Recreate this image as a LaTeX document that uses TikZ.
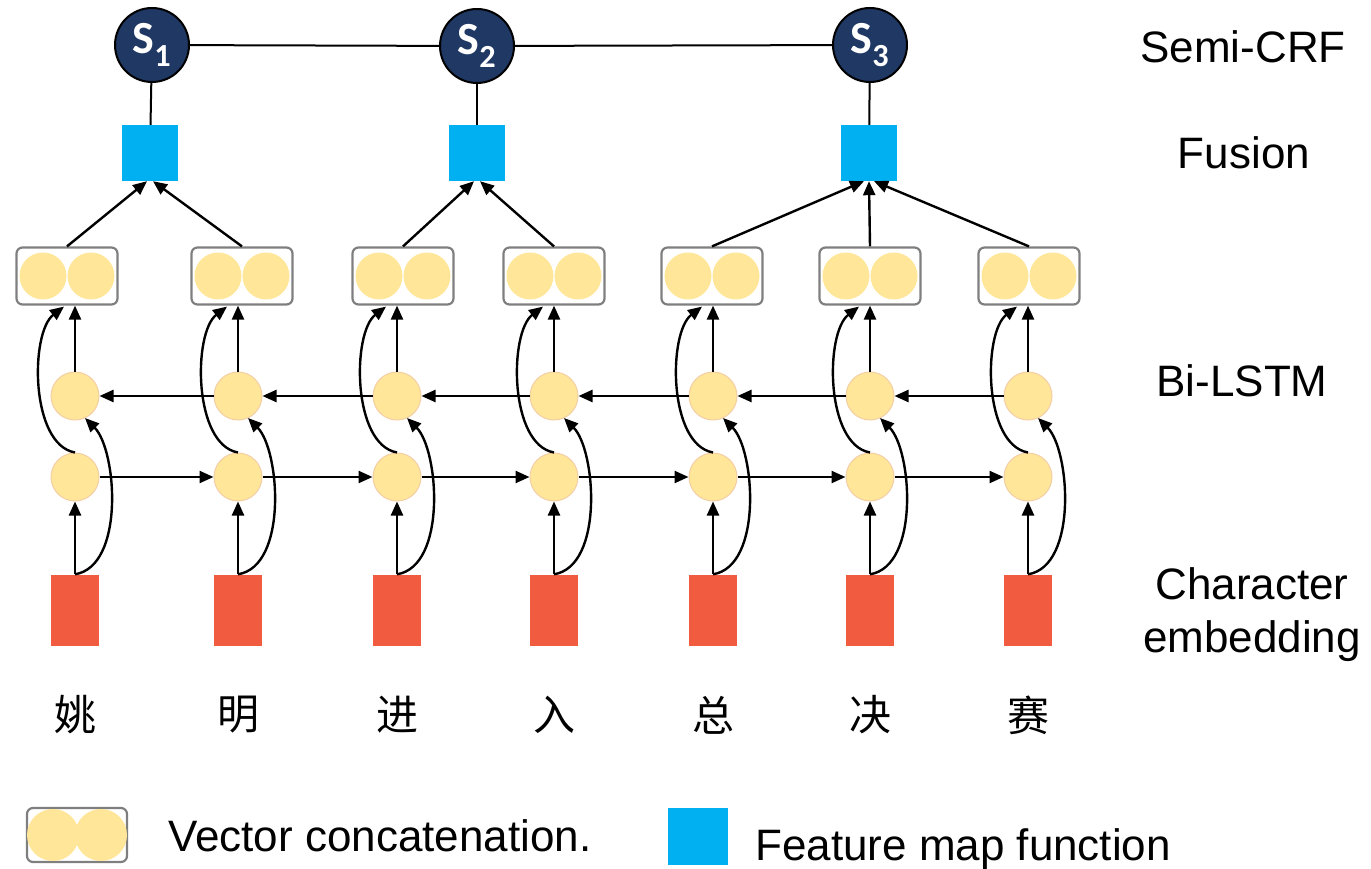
\documentclass[tikz,border=0pt]{standalone}
\usepackage{fontspec}
\setmainfont{Liberation Sans}
\newfontfamily\cjk{Noto Sans CJK SC}
\newfontfamily\calib{Carlito}
\usetikzlibrary{arrows.meta,calc}
\definecolor{navy}{HTML}{1F3864}
\definecolor{fblue}{HTML}{00B0F0}
\definecolor{ered}{HTML}{F15B40}
\definecolor{lyel}{HTML}{FFE699}
\definecolor{lbord}{HTML}{F4CFA6}
\definecolor{bgray}{HTML}{7F7F7F}
\begin{document}
\begin{tikzpicture}[x=1pt,y=-1pt,
  snode/.style={circle, draw=black, line width=2pt, fill=navy, minimum size=74pt, inner sep=0pt, text=white, font=\calib\bfseries\fontsize{46}{46}\selectfont},
  fus/.style={rectangle, fill=fblue, minimum width=56pt, minimum height=56pt, inner sep=0pt},
  emb/.style={rectangle, fill=ered, minimum width=48pt, minimum height=71pt, inner sep=0pt},
  lstm/.style={circle, fill=lyel, draw=lbord, line width=1pt, minimum size=48pt, inner sep=0pt},
  cbox/.style={rectangle, rounded corners=6pt, draw=bgray, line width=2.2pt, minimum width=101pt, minimum height=57pt, inner sep=0pt},
  cdot/.style={circle, fill=lyel, minimum size=47pt, inner sep=0pt},
  arr/.style={-{Triangle[length=14pt,width=12pt]}, line width=2.4pt},
  conn/.style={line width=2pt},
  lab/.style={font=\fontsize{44}{48}\selectfont, inner sep=0pt},
  chr/.style={font=\cjk\fontsize{42}{42}\selectfont, inner sep=0pt}
]
\useasboundingbox (0,0) rectangle (1371,869);

% columns
\foreach \i/\x/\cx/\ch in {1/75/67/姚, 2/238/242/明, 3/397/403/进, 4/554/554/入, 5/713/712/总, 6/870/870/决, 7/1028/1029/赛} {
  \node[emb] (e\i) at (\x,610) {};
  \node[lstm] (l\i) at (\x,477) {};
  \node[lstm] (u\i) at (\x,396) {};
  \node[cbox] (c\i) at (\cx,276) {};
  \node[cdot] (c\i a) at (\cx-24,276) {};
  \node[cdot] (c\i b) at (\cx+24,276) {};
  \node[chr] (ch\i) at (\x,715) {\ch};
}

% vertical and curved arrows
\foreach \i in {1,...,7} {
  \draw[arr] (e\i.north) -- (l\i.south);
  \draw[arr] (u\i.north) -- (u\i.north |- c\i.south);
  \draw[arr] (e\i.north) .. controls +(50,-8) and +(32,32) .. ($(u\i.center)+(10,22)$);
  \draw[arr] (l\i.north) .. controls +(-45,-8) and +(-34,26) .. ($(u\i.north |- c\i.south)+(-11,1)$);
}

% horizontal recurrences
\foreach \i/\j in {1/2,2/3,3/4,4/5,5/6,6/7} {
  \draw[arr] (l\i.east) -- (l\j.west);
  \draw[arr] (u\j.west) -- (u\i.east);
}

% fusion and semi-CRF
\node[fus] (f1) at (150,153) {};
\node[fus] (f2) at (477,153) {};
\node[fus] (f3) at (869,153) {};
\node[snode] (s1) at (152,45) {S\textsubscript{1}};
\node[snode] (s2) at (477,46) {S\textsubscript{2}};
\node[snode] (s3) at (870,45) {S\textsubscript{3}};
\draw[conn] (s1) -- (s2);
\draw[conn] (s2) -- (s3);
\draw[conn] (s1) -- (f1);
\draw[conn] (s2) -- (f2);
\draw[conn] (s3) -- (f3);

\draw[arr] (c1.north) -- ([xshift=-3pt]f1.south);
\draw[arr] (c2.north) -- ([xshift=3pt]f1.south);
\draw[arr] (c3.north) -- ([xshift=-3pt]f2.south);
\draw[arr] (c4.north) -- ([xshift=3pt]f2.south);
\draw[arr] (c5.north) -- ([xshift=-5pt]f3.south);
\draw[arr] (c6.north) -- (f3.south);
\draw[arr] (c7.north) -- ([xshift=5pt]f3.south);

% layer labels
\node[lab, anchor=base] (lsc) at (1243,63) {Semi-CRF};
\node[lab, anchor=base] (lfu) at (1244,169) {Fusion};
\node[lab, anchor=base] (lbi) at (1242,396) {Bi-LSTM};
\node[lab, anchor=base] (lch) at (1252,599) {Character};
\node[lab, anchor=base] (lem) at (1252,652) {embedding};

% legend
\node[cbox, minimum width=100pt, minimum height=54pt] (gbox) at (77,835) {};
\node[cdot, minimum width=46pt, minimum height=52pt] (ga) at (53,835) {};
\node[cdot, minimum width=46pt, minimum height=52pt] (gb) at (101,835) {};
\node[lab, anchor=base west] (gtxt) at (168,851) {Vector concatenation.};
\node[fus, minimum width=60pt, minimum height=57pt] (gf) at (698,836) {};
\node[lab, anchor=base west] (ftxt) at (755,860) {Feature map function};
\end{tikzpicture}
\end{document}
